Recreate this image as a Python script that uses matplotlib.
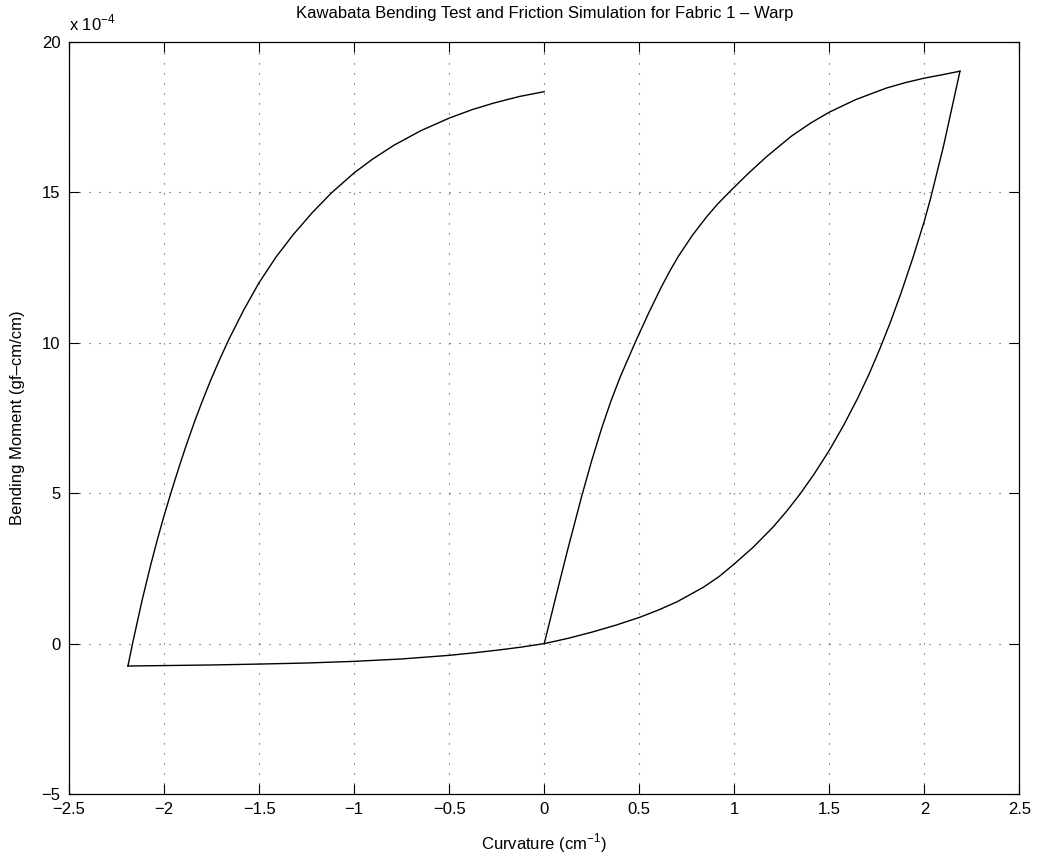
import matplotlib
matplotlib.use("Agg")
import matplotlib.pyplot as plt

# Values in units of 1e-4 gf-cm/cm
# Branch 1: loading from origin to max curvature
k_load = [0.0, 0.077, 0.124, 0.198, 0.25, 0.302, 0.35, 0.40, 0.481, 0.55, 0.614, 0.66, 0.705, 0.78, 0.853,
          0.91, 0.975, 1.07, 1.168, 1.3, 1.4, 1.5, 1.64, 1.8, 1.9, 2.0, 2.1, 2.187]
m_load = [0.0, 1.96, 3.14, 4.92, 6.09, 7.16, 8.05, 8.87, 10.05, 11.0, 11.83, 12.38, 12.87, 13.58, 14.18,
          14.6, 15.02, 15.61, 16.18, 16.87, 17.3, 17.67, 18.09, 18.47, 18.65, 18.8, 18.92, 19.03]

# Branch 2: unloading from max curvature through origin to negative curvature
k_unload = [2.187, 2.1, 2.033, 2.0, 1.94, 1.876, 1.82, 1.766, 1.71, 1.649, 1.575, 1.5, 1.42, 1.343, 1.275,
            1.203, 1.1, 1.0, 0.92, 0.836, 0.7, 0.6, 0.5, 0.375, 0.25, 0.125, 0.0,
            -0.125, -0.25, -0.375, -0.5, -0.75, -1.0, -1.25, -1.5, -1.75, -2.0, -2.19]
m_unload = [19.03, 16.53, 14.82, 14.06, 12.84, 11.64, 10.67, 9.81, 8.98, 8.16, 7.26, 6.43, 5.64, 4.95, 4.4,
            3.87, 3.21, 2.65, 2.23, 1.87, 1.395, 1.115, 0.87, 0.61, 0.38, 0.175, 0.0,
            -0.12, -0.22, -0.31, -0.39, -0.51, -0.59, -0.645, -0.68, -0.71, -0.73, -0.745]

# Branch 3: reloading from negative curvature back to zero curvature
k_reload = [-2.19, -2.162, -2.115, -2.07, -2.035, -2.0, -1.96, -1.92, -1.885, -1.84, -1.80, -1.755, -1.71,
            -1.66, -1.58, -1.5, -1.41, -1.32, -1.22, -1.12, -1.0, -0.9, -0.79, -0.65, -0.5, -0.38,
            -0.266, -0.13, 0.0]
m_reload = [-0.745, 0.11, 1.45, 2.62, 3.46, 4.25, 5.09, 5.89, 6.56, 7.37, 8.04, 8.75, 9.41,
            10.1, 11.1, 12.0, 12.86, 13.6, 14.33, 14.98, 15.65, 16.12, 16.57, 17.05, 17.47, 17.75,
            17.97, 18.19, 18.35]

x_ticks = [-2.5, -2, -1.5, -1, -0.5, 0, 0.5, 1, 1.5, 2, 2.5]
x_tick_labels = ["\u22122.5", "\u22122", "\u22121.5", "\u22121", "\u22120.5", "0", "0.5", "1", "1.5", "2", "2.5"]
y_ticks = [-5, 0, 5, 10, 15, 20]
y_tick_labels = ["\u22125", "0", "5", "10", "15", "20"]

plt.rcParams['font.family'] = ['Liberation Sans', 'DejaVu Sans']
plt.rcParams['mathtext.fontset'] = 'custom'
plt.rcParams['mathtext.rm'] = 'Liberation Sans'

fig = plt.figure(figsize=(10.42, 8.61), dpi=100)
ax = fig.add_axes([0.0662, 0.0778, 0.9122, 0.8734])

for k, m in ((k_load, m_load), (k_unload, m_unload), (k_reload, m_reload)):
    ax.plot(k, m, color='black', linewidth=1.0, solid_joinstyle='round')

ax.set_xlim(-2.5, 2.5)
ax.set_ylim(-5, 20)
ax.set_xticks(x_ticks)
ax.set_xticklabels(x_tick_labels)
ax.set_yticks(y_ticks)
ax.set_yticklabels(y_tick_labels)

ax.tick_params(direction='in', length=7, width=0.8, top=True, right=True, labelsize=12, pad=6, colors='black')
for s in ax.spines.values():
    s.set_linewidth(0.9)

ax.grid(True, color='0.25', linestyle=(0, (1, 8)), linewidth=0.8)

ax.set_title("Kawabata Bending Test and Friction Simulation for Fabric 1 \u2013 Warp", fontsize=12, pad=17)
ax.set_xlabel("Curvature (cm$^{-1}$)", fontsize=12, labelpad=10)
ax.set_ylabel("Bending Moment (gf\u2013cm/cm)", fontsize=12, labelpad=12)
ax.text(0.0, 1.012, "x 10$^{-4}$", transform=ax.transAxes, fontsize=12, ha='left', va='bottom')

fig.savefig("out.png", dpi=100)
